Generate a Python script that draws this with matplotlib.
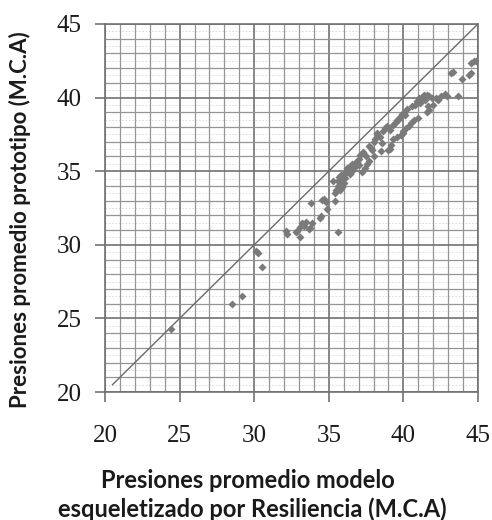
import numpy as np
import matplotlib
matplotlib.use("Agg")
import matplotlib.pyplot as plt
from matplotlib.ticker import MultipleLocator

# presiones promedio: modelo esqueletizado (x) vs prototipo (y), M.C.A
modelo = [
    24.4, 28.5, 29.2, 30.15, 30.25, 30.5,
    32.1, 32.2, 32.8, 32.9, 33.05, 33.1, 33.2, 33.35, 33.5, 33.65,
    33.75, 33.8, 33.9, 34.4, 34.5, 34.55, 34.65, 34.8, 34.9, 35.3,
    35.4, 35.6, 35.45, 35.5, 35.6, 35.65, 35.7, 35.75, 35.8, 35.85,
    35.9, 35.95, 36.0, 36.05, 36.1, 36.2, 36.25, 36.3, 36.35, 36.4,
    36.5, 36.55, 36.6, 36.7, 36.8, 36.85, 36.9, 37.0, 37.05, 37.2,
    37.3, 37.4, 37.5, 37.55, 37.7, 37.85, 37.9, 38.05, 38.2, 38.3,
    38.4, 38.5, 38.6, 38.65, 38.75, 38.9, 39.0, 39.1, 39.08, 39.2,
    39.3, 39.3, 39.45, 39.55, 39.6, 39.65, 39.75, 39.85, 39.88, 39.95,
    40.0, 40.05, 40.1, 40.2, 40.25, 40.4, 40.5, 40.55, 40.7, 40.8,
    40.9, 41.0, 41.05, 41.1, 41.2, 41.25, 41.3, 41.35, 41.45, 41.55,
    41.6, 41.65, 41.7, 41.75, 41.9, 42.0, 42.2, 42.35, 42.5, 42.8,
    42.9, 43.2, 43.3, 43.65, 43.95, 44.4, 44.5, 44.55, 44.7, 44.85,
    37.1, 37.7, 38.0, 38.1,
]
prototipo = [
    24.3, 26.0, 26.5, 29.6, 29.45, 28.5,
    30.95, 30.75, 30.85, 30.95, 30.55, 31.2, 31.45, 31.25, 31.55, 31.1,
    31.15, 32.85, 31.45, 31.8, 31.95, 33.05, 33.1, 32.9, 32.4, 34.35,
    33.0, 30.9, 33.5, 33.75, 34.3, 34.0, 34.6, 33.7, 34.2, 34.75,
    33.9, 34.45, 34.2, 34.8, 34.55, 35.2, 34.95, 35.05, 35.3, 34.8,
    35.3, 35.5, 35.1, 35.4, 35.65, 35.35, 35.6, 35.4, 35.85, 34.95,
    36.3, 35.2, 36.05, 35.5, 35.7, 36.6, 36.45, 36.0, 37.6, 37.45,
    37.35, 36.4, 36.9, 37.7, 37.95, 38.05, 36.45, 36.5, 37.8, 36.8,
    38.15, 37.2, 38.3, 38.45, 37.3, 38.5, 38.7, 37.45, 38.9, 37.6,
    37.7, 38.95, 38.8, 37.9, 39.2, 38.1, 38.3, 39.4, 38.45, 39.5,
    39.75, 38.6, 40.0, 39.6, 39.85, 40.05, 39.9, 40.2, 39.8, 39.0,
    40.2, 39.4, 40.1, 39.15, 39.95, 39.5, 39.95, 39.85, 40.1, 40.25,
    40.1, 41.65, 41.75, 40.1, 41.25, 41.55, 41.7, 42.35, 42.45, 42.5,
    36.1, 36.7, 37.0, 37.2,
]
linea_1a1 = [20.5, 45]
ticks = [20, 25, 30, 35, 40, 45]

fig = plt.figure(figsize=(4.92, 5.2), dpi=100)
ax = fig.add_axes([0.2134, 0.246, 0.7581, 0.708])

# rejilla: lineas cada 1 y cada 5, y una muy tenue cada 0.5 en y
for v in np.arange(20.5, 45, 1.0):
    ax.axhline(v, color="#d8d8d8", lw=0.6, ls=(0, (2, 2)), zorder=0)
ax.xaxis.set_minor_locator(MultipleLocator(1))
ax.yaxis.set_minor_locator(MultipleLocator(1))
ax.grid(which="minor", color="#959595", lw=0.9, zorder=1)
ax.grid(which="major", color="#727272", lw=1.2, zorder=1)
ax.set_axisbelow(True)

ax.plot(linea_1a1, linea_1a1, color="#6a6a6a", lw=1.0, zorder=2)
ax.plot(modelo, prototipo, ls="none", marker="D", ms=3.7,
        color="#7a7a7a", mec="none", zorder=3)

ax.set_xlim(20, 45)
ax.set_ylim(20, 45)
ax.set_xticks(ticks)
ax.set_yticks(ticks)
ax.tick_params(which="minor", length=0)
ax.tick_params(which="major", length=7, color="#727272", width=1.2,
               direction="out")
ax.tick_params(axis="y", pad=10)
ax.tick_params(axis="x", pad=17)
for lab in ax.get_xticklabels() + ax.get_yticklabels():
    lab.set_fontfamily("Liberation Serif")
    lab.set_fontsize(18)
    lab.set_color("#1a1a1a")
for s in ax.spines.values():
    s.set_color("#727272")
    s.set_linewidth(1.2)

fig.text(20 / 492, 1 - 220 / 520, "Presiones promedio prototipo (M.C.A)",
         rotation=90, ha="center", va="center", fontfamily="Lato",
         fontweight="bold", fontsize=16, color="#1a1a1a")
fig.text(248 / 492, 1 - 481 / 520, "Presiones promedio modelo",
         ha="center", va="center", fontfamily="Lato", fontweight="bold",
         fontsize=17, color="#1a1a1a")
fig.text(252 / 492, 1 - 509 / 520, "esqueletizado por Resiliencia (M.C.A)",
         ha="center", va="center", fontfamily="Lato", fontweight="bold",
         fontsize=17, color="#1a1a1a")

fig.savefig("out.png", dpi=100)
